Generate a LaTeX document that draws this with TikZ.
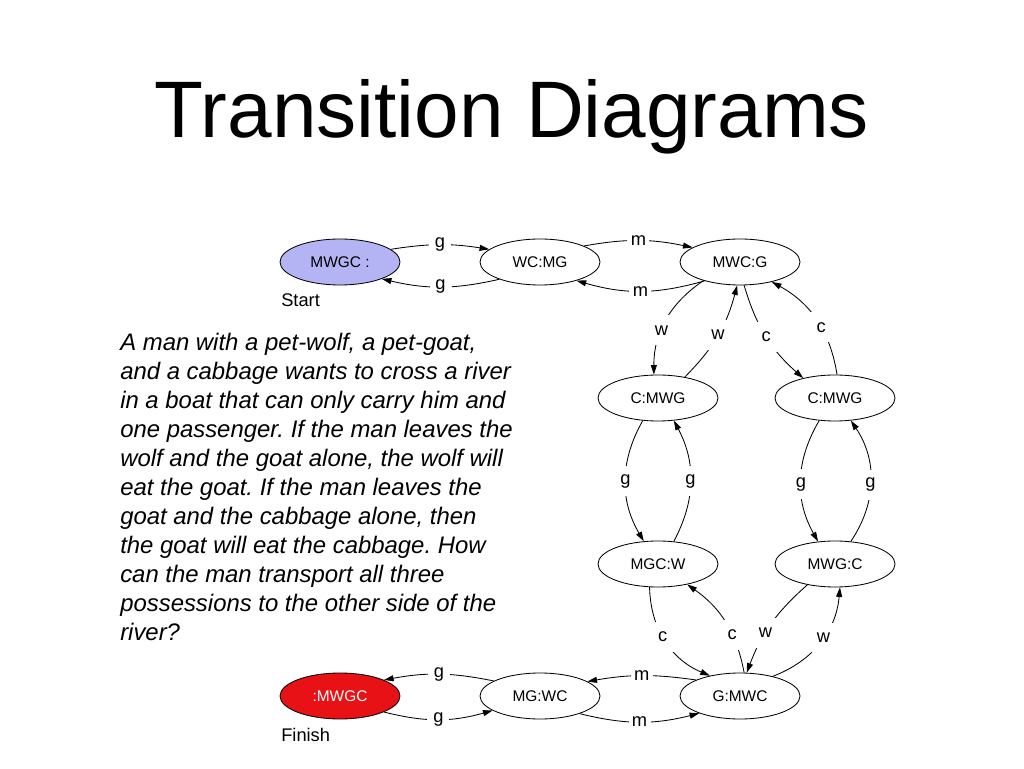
\documentclass[tikz,border=0pt]{standalone}
\usepackage{fontspec}
\setmainfont{Liberation Sans}
\usetikzlibrary{shapes.geometric,arrows.meta}

\definecolor{startblue}{RGB}{180,180,245}
\definecolor{finishred}{RGB}{232,18,22}

\tikzset{
  state/.style={ellipse, draw, line width=0.6pt, minimum width=30mm, minimum height=11.5mm,
    inner sep=0pt, font=\fontsize{11}{13}\selectfont},
  move/.style={-{Triangle[length=2.4mm,width=1.5mm]}, line width=0.6pt},
  lbl/.style={fill=white, inner sep=0pt, minimum width=5.5mm, minimum height=7.5mm,
    font=\fontsize{13}{15}\selectfont},
  side/.style={anchor=west, inner sep=0pt, font=\fontsize{13}{15}\selectfont}
}

\begin{document}
\frenchspacing
\begin{tikzpicture}[x=0.25mm,y=0.25mm]
    \useasboundingbox (0,0) rectangle (1024,768);

    % Title
    \node[anchor=base, inner sep=0pt, font=\fontsize{57}{60}\selectfont] (title) at (512,630) {Transition Diagrams};

    % Puzzle text
    \node[anchor=north west, align=left, inner sep=0pt, font=\itshape\fontsize{17}{20.6}\selectfont] (puzzle) at (120,435)
      {A man with a pet-wolf, a pet-goat,\\
       and a cabbage wants to cross a river\\
       in a boat that can only carry him and\\
       one passenger. If the man leaves the\\
       wolf and the goat alone, the wolf will\\
       eat the goat. If the man leaves the\\
       goat and the cabbage alone, then\\
       the goat will eat the cabbage. How\\
       can the man transport all three\\
       possessions to the other side of the\\
       river?};

    % States
    \node[state, fill=startblue] (mwgcA) at (340,506) {MWGC :};
    \node[state] (wcmg) at (540,506) {WC:MG};
    \node[state] (mwcg) at (740,506) {MWC:G};
    \node[state] (cmwgL) at (658,370) {C:MWG};
    \node[state] (cmwgR) at (835,370) {C:MWG};
    \node[state] (mgcw) at (658,204) {MGC:W};
    \node[state] (mwgc) at (835,204) {MWG:C};
    \node[state, fill=finishred, text=white] (mwgcB) at (340,72) {:MWGC};
    \node[state] (mgwc) at (540,72) {MG:WC};
    \node[state] (gmwc) at (740,72) {G:MWC};

    \node[side] (startlbl) at (281,468) {Start};
    \node[side] (finishlbl) at (281,33) {Finish};

    % Top row
    \draw[move] (mwgcA.14) to[bend left=9] node[lbl]{g} (wcmg.166);
    \draw[move] (wcmg.203) to[bend left=13] node[lbl]{g} (mwgcA.-22);
    \draw[move] (wcmg.20) to[bend left=11] node[lbl]{m} (mwcg.163);
    \draw[move] (mwcg.208) to[bend left=16] node[lbl]{m} (wcmg.-27);

    % MWC:G and the two C:MWG
    \draw[move] (mwcg.207) to[bend right=28] node[lbl, pos=0.6]{w} (cmwgL.100);
    \draw[move] (cmwgL.38) to[bend right=15] node[lbl]{w} (mwcg.263);
    \draw[move] (mwcg.280) to[bend right=16] node[lbl]{c} (cmwgR.148);
    \draw[move] (cmwgR.85) to[bend right=26] node[lbl, pos=0.42]{c} (mwcg.328);

    % Goat back and forth
    \draw[move] (cmwgL.236) to[bend right=30] node[lbl]{g} (mgcw.122);
    \draw[move] (mgcw.55) to[bend right=28] node[lbl]{g} (cmwgL.305);
    \draw[move] (cmwgR.235) to[bend right=30] node[lbl, pos=0.53]{g} (mwgc.127);
    \draw[move] (mwgc.55) to[bend right=34] node[lbl, pos=0.47]{g} (cmwgR.305);

    % Down to G:MWC
    \draw[move] (mgcw.250) to[bend right=33] node[lbl, pos=0.45]{c} (gmwc.146);
    \draw[move] (gmwc.80) to[bend right=22] node[lbl, pos=0.36]{c} (mgcw.-35);
    \draw[move] (mwgc.217) to[bend right=14] node[lbl, pos=0.6]{w} (gmwc.74);
    \draw[move] (gmwc.31) to[bend right=32] node[lbl, pos=0.55]{w} (mwgc.282);

    % Bottom row
    \draw[move] (gmwc.160) to[bend right=9] node[lbl]{m} (mgwc.17);
    \draw[move] (mgwc.-24) to[bend right=14] node[lbl]{m} (gmwc.203);
    \draw[move] (mgwc.162) to[bend right=11] node[lbl]{g} (mwgcB.20);
    \draw[move] (mwgcB.-20) to[bend right=15] node[lbl]{g} (mgwc.197);
\end{tikzpicture}
\end{document}
